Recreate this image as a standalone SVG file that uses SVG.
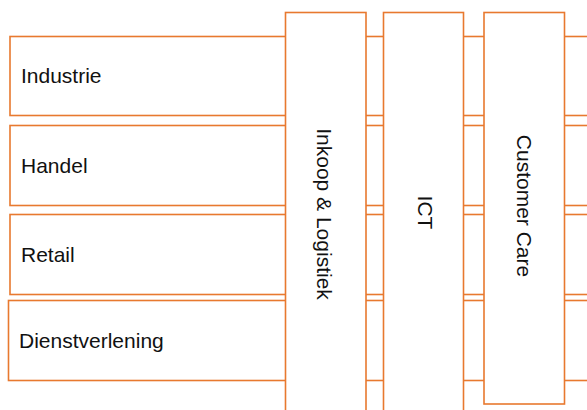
<svg xmlns="http://www.w3.org/2000/svg" width="587" height="410" viewBox="0 0 587 410">
<style>
.box{fill:#fff;stroke:#E8792F;stroke-width:1.6}
.lbl{font-family:"Liberation Sans",Arial,sans-serif;font-size:21px;fill:#111}
</style>
<rect width="587" height="410" fill="#fff"/>
<g id="row-industrie"><rect class="box" x="10" y="36.5" width="600" height="79"/><text class="lbl" x="21" y="83">Industrie</text></g>
<g id="row-handel"><rect class="box" x="10" y="125.5" width="600" height="80"/><text class="lbl" x="21" y="172.5">Handel</text></g>
<g id="row-retail"><rect class="box" x="10" y="214.5" width="600" height="80"/><text class="lbl" x="21" y="261.5">Retail</text></g>
<g id="row-dienstverlening"><rect class="box" x="8.5" y="300.5" width="600" height="80"/><text class="lbl" x="19" y="348.3">Dienstverlening</text></g>
<g id="col-inkoop"><rect class="box" x="285.5" y="12.5" width="80.5" height="420"/><text class="lbl" transform="translate(317,214) rotate(90)" text-anchor="middle">Inkoop &amp; Logistiek</text></g>
<g id="col-ict"><rect class="box" x="383.5" y="12.5" width="80" height="420"/><text class="lbl" transform="translate(417.5,212.5) rotate(90)" text-anchor="middle">ICT</text></g>
<g id="col-customer"><rect class="box" x="484" y="12.5" width="80.5" height="391.5"/><text class="lbl" transform="translate(516.5,206) rotate(90)" text-anchor="middle">Customer Care</text></g>
<g id="connectors"/>
</svg>
